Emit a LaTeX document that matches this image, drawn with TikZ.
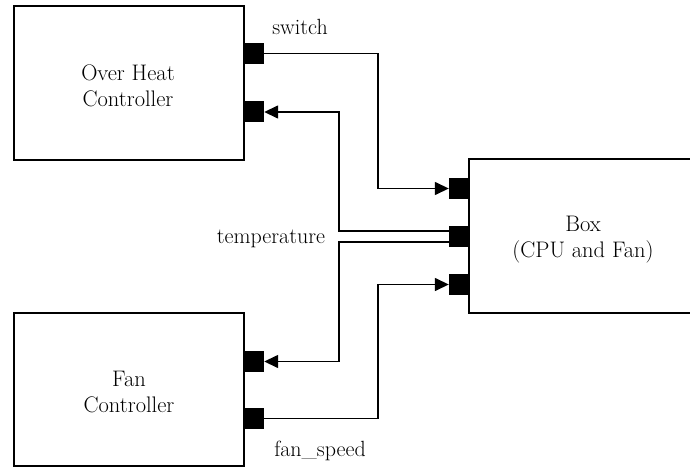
\documentclass[tikz,border=0pt]{standalone}
\usetikzlibrary{arrows.meta}
\begin{document}
\begin{tikzpicture}[x=1pt,y=-1pt,
  blk/.style={draw, line width=1.5pt, inner sep=0pt},
  txt/.style={align=center, inner sep=0pt, font=\fontsize{22.5}{26}\selectfont},
  port/.style={fill=black, inner sep=0pt, minimum width=20pt, minimum height=21pt},
  wire/.style={line width=1.5pt},
  arr/.style={wire, -{Triangle[length=14pt,width=13pt]}},
  lbl/.style={font=\fontsize{22}{26}\selectfont, inner sep=0pt, anchor=base}]
\clip (0,0) rectangle (690,468);
\fill[white] (0,0) rectangle (690,468);
% blocks
\node[blk, minimum width=230pt, minimum height=154pt] (ohc) at (129,83) {};
\node[txt] (ohct) at (128,85.5) {Over Heat\\Controller};
\node[blk, minimum width=230pt, minimum height=153pt] (fan) at (129,389.5) {};
\node[txt] (fant) at (129,392.5) {Fan\\Controller};
\node[blk, minimum width=228pt, minimum height=154pt] (box) at (583,236) {};
\node[txt] (boxt) at (583,240) {Box\\(CPU and Fan)};
% ports
\node[port] (ohc-p1) at (254,53.5) {};
\node[port] (ohc-p2) at (254,112) {};
\node[port] (fan-p1) at (254,361.5) {};
\node[port] (fan-p2) at (254,418.5) {};
\node[port] (box-p1) at (459,188.5) {};
\node[port] (box-p2) at (459,236.5) {};
\node[port] (box-p3) at (459,284.5) {};
% connectors
\draw[arr] (ohc-p1.east) -- ++(114,0) |- (box-p1.west);
\draw[arr] ([yshift=5.5pt]box-p2.west) -- ++(-110,0) |- (ohc-p2.east);
\draw[arr] ([yshift=-5.5pt]box-p2.west) -- ++(-110,0) |- (fan-p1.east);
\draw[arr] (fan-p2.east) -- ++(114,0) |- (box-p3.west);
% labels
\node[lbl] (lsw) at (300,35) {switch};
\node[lbl] (ltemp) at (271,243) {temperature};
\node[lbl] (lfs) at (320,456) {fan\_speed};
\end{tikzpicture}
\end{document}
